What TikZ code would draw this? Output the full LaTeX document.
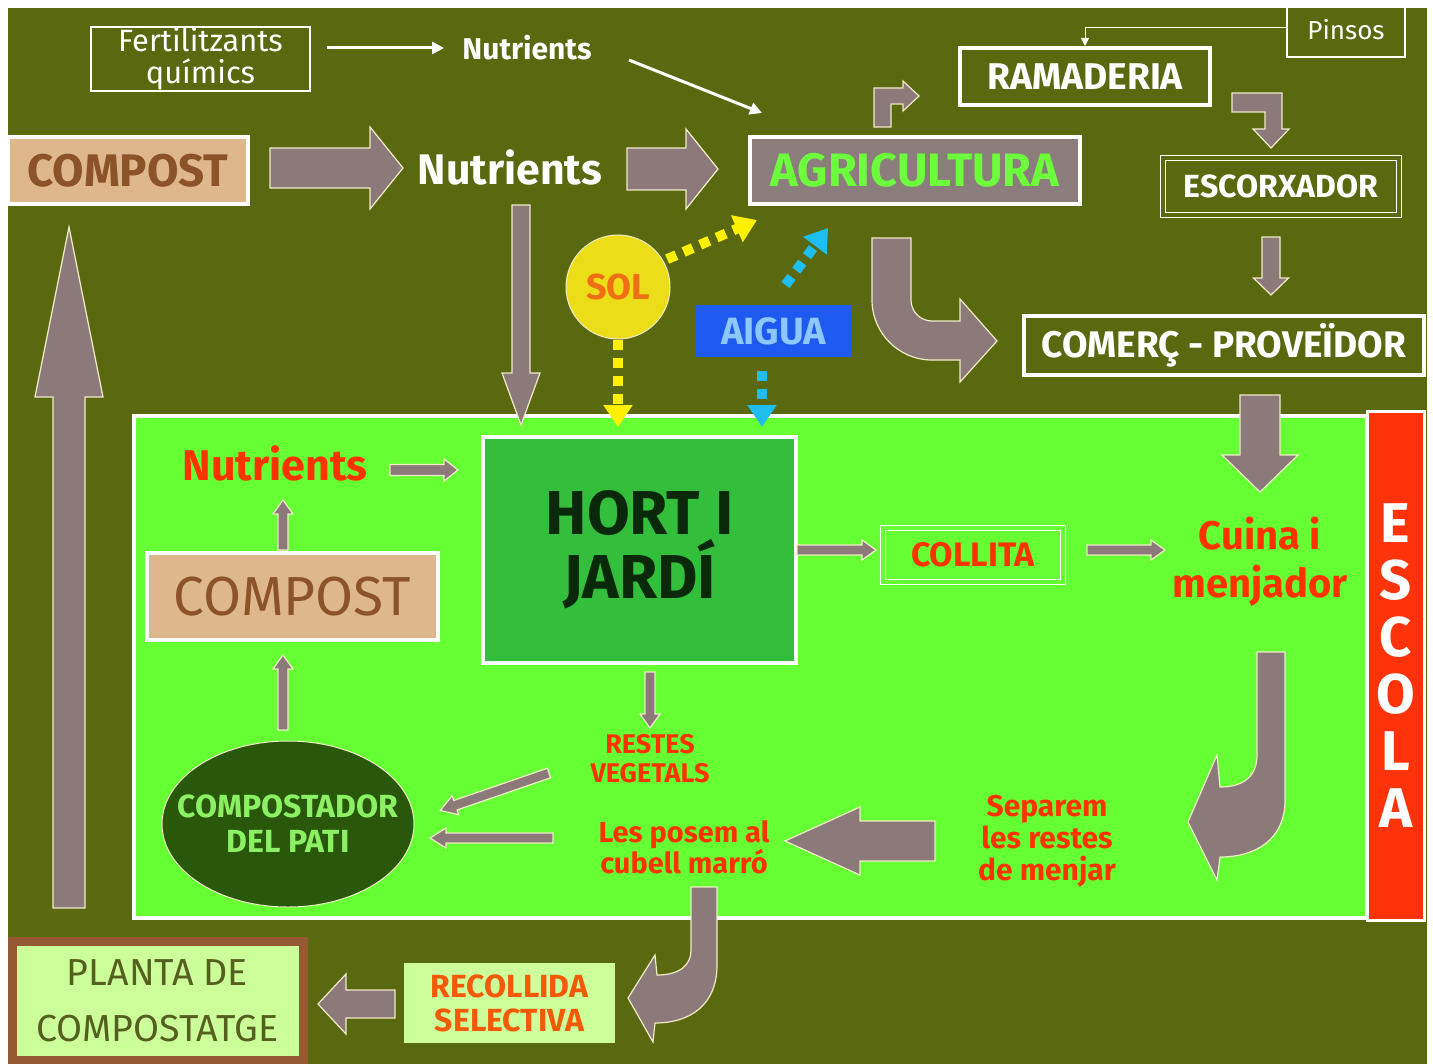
\documentclass[tikz,border=0pt]{standalone}
\usepackage{fontspec}
\setmainfont{Fira Sans}
\usetikzlibrary{arrows.meta,calc,shapes.geometric}
\definecolor{olivebg}{RGB}{90,105,15}
\definecolor{agray}{RGB}{140,122,122}
\definecolor{cream}{RGB}{240,235,200}
\definecolor{tanbox}{RGB}{222,184,140}
\definecolor{browntxt}{RGB}{140,82,40}
\definecolor{brightgreen}{RGB}{102,255,51}
\definecolor{hortgreen}{RGB}{51,190,60}
\definecolor{darkgreen}{RGB}{42,88,10}
\definecolor{compotxt}{RGB}{140,240,100}
\definecolor{redtxt}{RGB}{255,51,0}
\definecolor{orangetxt}{RGB}{245,90,10}
\definecolor{escolared}{RGB}{255,51,10}
\definecolor{aiguablue}{RGB}{30,90,240}
\definecolor{aiguatxt}{RGB}{140,200,255}
\definecolor{solyellow}{RGB}{235,222,25}
\definecolor{soltxt}{RGB}{240,110,20}
\definecolor{dotyellow}{RGB}{255,240,0}
\definecolor{dotcyan}{RGB}{30,190,240}
\definecolor{lightgreen}{RGB}{204,255,153}
\definecolor{plantatxt}{RGB}{85,95,30}
\definecolor{plantabrown}{RGB}{150,90,50}
\definecolor{agrigray}{RGB}{140,125,125}
\definecolor{agritxt}{RGB}{110,255,60}
\definecolor{hortxt}{RGB}{10,40,10}
\tikzset{
  blockarrow/.style={fill=agray, draw=cream, line width=0.6pt, line join=miter},
  whitearrow/.style={draw=white, line width=1.5pt, -{Triangle[width=6pt,length=6pt]}},
  thinwhite/.style={draw=white, line width=0.5pt, -{Triangle[width=4pt,length=4pt]}},
  dotY/.style={draw=dotyellow, line width=5pt, dash pattern=on 5pt off 4pt, -{Triangle[width=14pt,length=11pt]}},
  dotC/.style={draw=dotcyan, line width=5pt, dash pattern=on 5pt off 4pt, -{Triangle[width=14pt,length=11pt]}},
  thickbox/.style={draw=white, line width=2pt},
  dblbox/.style={draw=white, line width=0.6pt, double distance=1.6pt},
  lbl/.style={inner sep=0pt, align=center},
}
\newcommand\BArr[7]{\path[blockarrow,shift={(#1,#2)},rotate=#3] (0,-#5) -- ({#4-#7},-#5) -- ({#4-#7},-#6) -- (#4,0) -- ({#4-#7},#6) -- ({#4-#7},#5) -- (0,#5) -- cycle;}
\newcommand\RectNode[7]{\node[#2, inner sep=0pt, outer sep=0pt, align=center, minimum width={(#5-#3)*0.5pt}, minimum height={(#6-#4)*0.5pt}] (#1) at ({(#3+#5)/2},{(#4+#6)/2}) {#7};}
\begin{document}
\begin{tikzpicture}[x=0.5pt,y=-0.5pt]
\useasboundingbox (0,0) rectangle (1433,1064);
\fill[white] (0,0) rectangle (1433,1064);
\fill[olivebg] (8,8) rectangle (1427,1064);

% ---------- top area ----------
\RectNode{fert}{draw=white, line width=0.6pt, text=white, font=\fontsize{15.4}{16}\selectfont}{91}{27}{310}{91}{Fertilitzants\\químics}
\node[lbl, text=white, font=\bfseries\fontsize{15}{17}\selectfont] (nut1) at (527,48) {Nutrients};
\draw[whitearrow] ([xshift=8.5pt]fert.east |- nut1) -- ([xshift=-9pt]nut1.west);

\RectNode{compostTop}{fill=tanbox, thickbox, text=browntxt, font=\bfseries\fontsize{22.8}{24}\selectfont}{8}{137}{248}{204}{COMPOST}
\node[lbl, text=white, font=\bfseries\fontsize{21.4}{23}\selectfont] (nut2) at (510,168) {Nutrients};
\RectNode{agri}{fill=agrigray, thickbox, text=agritxt, font=\bfseries\fontsize{23.4}{25}\selectfont}{750}{137}{1080}{204}{AGRICULTURA}
\draw[whitearrow] ([shift={(18.5pt,-6pt)}]nut1.east) -- ([shift={(6pt,12pt)}]agri.north west);

\RectNode{ram}{thickbox, text=white, font=\bfseries\fontsize{18.6}{20}\selectfont}{960}{48}{1210}{105}{RAMADERIA}
\RectNode{pinsos}{draw=white, line width=0.6pt, text=white, font=\fontsize{13}{15}\selectfont}{1287}{2}{1405}{57}{\raisebox{-2.5pt}{Pinsos}}
\draw[thinwhite] ([yshift=1pt]pinsos.west) -| ([yshift=1pt]ram.north);

\RectNode{escorx}{dblbox, double=olivebg, text=white, font=\bfseries\fontsize{16}{18}\selectfont}{1163}{158}{1399}{215}{ESCORXADOR}
\RectNode{comerc}{thickbox, text=white, font=\bfseries\fontsize{18.5}{20}\selectfont}{1024}{316}{1424}{375}{COMERÇ - PROVEÏDOR}

% big block arrows top
\BArr{270}{168}{0}{133}{20}{41}{33}
\BArr{627}{169}{0}{91}{21}{40}{32}
\BArr{1271}{237}{-90}{58}{9}{17.5}{17}
% bent arrow agricultura -> ramaderia
\path[blockarrow] (874,127) -- (874,88) -- (903,88) -- (903,81) -- (919,96) -- (903,111) -- (903,104) -- (891,104) -- (891,127) -- cycle;
% bent arrow ramaderia -> escorxador
\path[blockarrow] (1232,93) -- (1282,93) -- (1282,129) -- (1289,129) -- (1271,148) -- (1253,129) -- (1265,129) -- (1265,112) -- (1232,112) -- cycle;
% curved arrow agricultura -> comerc
\path[blockarrow] (872,238) -- (872,300) arc[start angle=180, end angle=90, radius=60] -- (960,360) -- (960,382) -- (997,341) -- (960,299) -- (960,321) -- (932,321) arc[start angle=90, end angle=180, radius=21] -- (911,238) -- cycle;

% sol and aigua
\node[circle, fill=solyellow, draw=cream, line width=0.5pt, minimum size=52pt, inner sep=0pt, text=soltxt, font=\bfseries\fontsize{18}{20}\selectfont] (sol) at (618,287) {SOL};
\RectNode{aigua}{fill=aiguablue, text=aiguatxt, font=\bfseries\fontsize{19}{21}\selectfont}{696}{305}{851}{357}{AIGUA}

% ---------- school area ----------
\RectNode{school}{fill=brightgreen, thickbox}{134}{416}{1367}{918}{}
\RectNode{escola}{fill=escolared, draw=white, line width=1.5pt, text=white, font=\bfseries\fontsize{28}{28.5}\selectfont}{1367}{411}{1424}{920}{E\\S\\C\\O\\L\\A}

% arrows crossing into school
\BArr{521}{205}{-90}{220}{9}{19}{52}
\BArr{1260}{395}{-90}{97}{20}{38}{37}

\RectNode{hort}{fill=hortgreen, thickbox, text=hortxt, font=\bfseries\fontsize{31}{32}\selectfont}{483}{437}{796}{663}{HORT I\\JARDÍ}

\coordinate (solend) at (618,427);
\coordinate (aiguaend) at (762,427);
\draw[dotY, shorten <=2pt] (sol.30) -- ([shift={(3.5pt,-8pt)}]agri.south west);
\draw[dotY] (sol.south) -- (solend);
\draw[dotC] ([shift={(6pt,10pt)}]aigua.north) -- ([shift={(39pt,-12pt)}]agri.south west);
\draw[dotC] ([shift={(-5.75pt,-7pt)}]aigua.south) -- (aiguaend);

\node[lbl, text=redtxt, font=\bfseries\fontsize{21.5}{23}\selectfont] (nut3) at (275,463) {Nutrients};
\RectNode{compostLow}{fill=tanbox, thickbox, text=browntxt, font=\fontsize{27.5}{29}\selectfont}{147}{553}{438}{640}{COMPOST}
\node[ellipse, fill=darkgreen, draw=cream, line width=0.5pt, minimum width=126pt, minimum height=83pt, inner sep=0pt] (compostador) at (288,824) {};
\node[lbl, text=compotxt, font=\bfseries\fontsize{16}{17.5}\selectfont] (compotext) at (compostador) {COMPOSTADOR\\DEL PATI};

\node[lbl, text=redtxt, font=\bfseries\fontsize{13.5}{14.5}\selectfont] (restes) at (650,759) {RESTES\\VEGETALS};
\node[lbl, text=redtxt, font=\bfseries\fontsize{14.5}{15.5}\selectfont] (posem) at (684,847) {Les posem al\\cubell marró};
\node[lbl, text=redtxt, font=\bfseries\fontsize{15}{16}\selectfont] (separem) at (1047,841) {Separem\\les restes\\de menjar};
\RectNode{collita}{dblbox, double=brightgreen, text=redtxt, font=\bfseries\fontsize{17}{19}\selectfont}{883}{528}{1063}{582}{COLLITA}
\node[lbl, text=redtxt, font=\bfseries\fontsize{20}{24}\selectfont] (cuina) at (1260,562) {Cuina i\\menjador};

% small arrows in school
\BArr{390}{470}{0}{68}{5.5}{11}{14}
\BArr{283}{550}{90}{50}{5}{10}{14}
\BArr{283}{730}{90}{75}{5}{10}{14}
\BArr{650}{672}{-90}{56}{5}{10}{14}
\BArr{549}{773}{199}{115}{5}{10}{16}
\BArr{553}{838}{180}{123}{5}{10}{16}
\BArr{797}{550}{0}{79}{5}{10}{14}
\BArr{1087}{550}{0}{78}{5}{10}{14}
\BArr{935}{841}{180}{150}{20}{34}{75}
% curved arrow cuina -> separem
\path[blockarrow] (1257,652) -- (1285,652) -- (1285,800) .. controls (1285,840) and (1255,857) .. (1220,857) -- (1217,880) -- (1188,822) -- (1217,755) -- (1220,787) .. controls (1245,787) and (1257,775) .. (1257,755) -- cycle;

% big left up arrow
\BArr{69}{908}{90}{681}{16}{34}{170}

% ---------- bottom ----------
\RectNode{planta}{fill=lightgreen, draw=plantabrown, line width=4.5pt, text=plantatxt, font=\fontsize{18.8}{28}\selectfont}{12}{941}{303}{1060}{PLANTA DE\\COMPOSTATGE}
\RectNode{recollida}{fill=lightgreen, text=orangetxt, font=\bfseries\fontsize{16}{17}\selectfont}{404}{963}{615}{1043}{RECOLLIDA\\SELECTIVA}
\BArr{395}{1004}{180}{77}{14}{30}{28}
% curved arrow posem -> recollida
\path[blockarrow] (691,887) -- (717,887) -- (717,965) .. controls (717,1005) and (690,1023) .. (655,1023) -- (653,1042) -- (628,998) -- (655,955) -- (657,975) .. controls (680,975) and (691,965) .. (691,950) -- cycle;
\end{tikzpicture}
\end{document}
